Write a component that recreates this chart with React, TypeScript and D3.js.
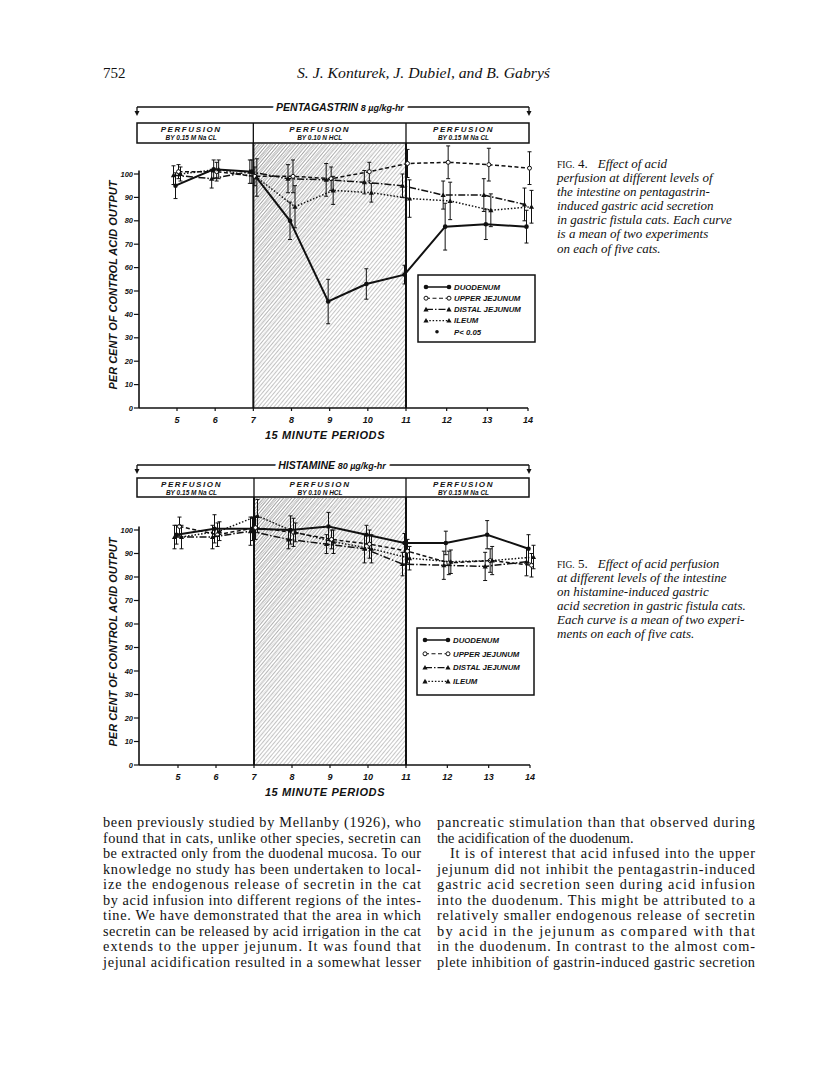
import * as d3 from "d3";

// 15-minute periods on the x axis
const periods = [5, 6, 7, 8, 9, 10, 11, 12, 13, 14];
const yTicks = [0, 10, 20, 30, 40, 50, 60, 70, 80, 90, 100];
const seriesNames = ["DUODENUM", "UPPER JEJUNUM", "DISTAL JEJUNUM", "ILEUM"];

// Fig. 4 - pentagastrin
const pentaDuodenum = [95, 102, 101, 80, 45.5, 53, 57, 77.5, 78.5, 77.5];
const pentaDuodenumErr = [5.5, 4, 5, 8, 9.5, 6.5, 4, 10, 6.5, 7];
const pentaUpperJej = [101, 101, 99, 99, 98, 101, 104.5, 105, 104, 102.5];
const pentaUpperJejErr = [3, 4, 4, 7, 5, 4, 6, 7, 7, 7];
const pentaDistalJej = [99.5, 98, 101, 98, 97.5, 96.5, 95, 91, 91, 87];
const pentaDistalJejErr = [4, 4, 5, 6, 7, 5, 5, 6, 7, 7];
const pentaIleum = [100, 102, 98.5, 86, 93, 92, 89.5, 88.5, 84.5, 86];
const pentaIleumErr = [3, 4, 8, 9, 6, 4, 8, 8, 7, 7];

// Fig. 5 - histamine
const histDuodenum = [98, 100.5, 100.5, 100, 101.5, 98, 94.5, 94.5, 98, 92];
const histDuodenumErr = [4, 6, 5, 6, 6, 4, 4, 5, 6, 6];
const histUpperJej = [101.5, 98, 101, 99, 96, 94, 91, 86, 87, 85];
const histUpperJejErr = [4, 5, 5, 6, 4, 6, 5, 5, 5, 5];
const histDistalJej = [97, 97, 99.5, 96, 94, 92, 85.5, 85, 84.5, 86.5];
const histDistalJejErr = [5, 5, 6, 4, 4, 6, 5, 6, 6, 6];
const histIleum = [97, 99.5, 106, 99, 95, 92, 88, 86.5, 87, 88.5];
const histIleumErr = [5, 4, 7, 4, 5, 6, 5, 5, 6, 5];

const leftColumn = [
  "been previously studied by Mellanby (1926), who",
  "found that in cats, unlike other species, secretin can",
  "be extracted only from the duodenal mucosa. To our",
  "knowledge no study has been undertaken to local-",
  "ize the endogenous release of secretin in the cat",
  "by acid infusion into different regions of the intes-",
  "tine. We have demonstrated that the area in which",
  "secretin can be released by acid irrigation in the cat",
  "extends to the upper jejunum. It was found that",
  "jejunal acidification resulted in a somewhat lesser",
];
const rightColumn = [
  "pancreatic stimulation than that observed during",
  "the acidification of the duodenum.",
  "It is of interest that acid infused into the upper",
  "jejunum did not inhibit the pentagastrin-induced",
  "gastric acid secretion seen during acid infusion",
  "into the duodenum. This might be attributed to a",
  "relatively smaller endogenous release of secretin",
  "by acid in the jejunum as compared with that",
  "in the duodenum. In contrast to the almost com-",
  "plete inhibition of gastrin-induced gastric secretion",
];
const fig4Caption = [
  "perfusion at different levels of",
  "the intestine on pentagastrin-",
  "induced gastric acid secretion",
  "in gastric fistula cats. Each curve",
  "is a mean of two experiments",
  "on each of five cats.",
];
const fig5Caption = [
  "at different levels of the intestine",
  "on histamine-induced gastric",
  "acid secretion in gastric fistula cats.",
  "Each curve is a mean of two experi-",
  "ments on each of five cats.",
];

const SANS = "'Liberation Sans', Arial, sans-serif";
const SERIF = "'Liberation Serif', 'Times New Roman', serif";

const styles = [
  { dash: undefined, width: 2, marker: "dot" },
  { dash: "4,2.5", width: 1.5, marker: "circle" },
  { dash: "7,2,1.5,2", width: 1.5, marker: "tri" },
  { dash: "1.5,1.8", width: 1.5, marker: "tri" },
];

function Marker({ kind, cx, cy }) {
  if (kind === "dot") return <circle cx={cx} cy={cy} r={2.3} fill="#111" />;
  if (kind === "circle")
    return <circle cx={cx} cy={cy} r={2} fill="#fff" stroke="#111" strokeWidth={1} />;
  return <path d={`M${cx - 2.6},${cy + 2} L${cx + 2.6},${cy + 2} L${cx},${cy - 2.6} Z`} fill="#111" />;
}

function Chart({ geo, title, dose, boxLabels, values, errs, showP }) {
  const x = d3.scaleLinear().domain([5, 11, 14]).range(geo.xr);
  const y = d3.scaleLinear().domain([0, 100]).range([geo.y0, geo.y100]);
  const offsets = [-1.5, 1.5, -3.5, 3.5];
  const left = 137, right = 529;
  const bounds = [left, x(7), x(11), right];
  const line = d3.line<number>().y((d) => y(d));

  return (
    <g>
      {/* infusion arrow */}
      <line x1={left} x2={right} y1={geo.hy} y2={geo.hy} stroke="#111" strokeWidth={1.3} />
      {[left, right].map((ax) => (
        <g key={ax}>
          <line x1={ax} x2={ax} y1={geo.hy} y2={geo.hy + 5} stroke="#111" strokeWidth={1.3} />
          <path d={`M${ax - 2.5},${geo.hy + 4} L${ax + 2.5},${geo.hy + 4} L${ax},${geo.hy + 9} Z`} fill="#111" />
        </g>
      ))}
      <text x={geo.titleX} y={geo.hy + 4} textAnchor="middle" fontFamily={SANS} fontWeight="bold"
        fontStyle="italic" fontSize={10.5} stroke="#fff" strokeWidth={7} paintOrder="stroke" fill="#111">
        {title}<tspan fontSize={9}> {dose}</tspan>
      </text>

      {/* perfusion box */}
      <rect x={left} y={geo.bt} width={right - left} height={geo.bb - geo.bt} fill="none" stroke="#111" strokeWidth={1.5} />
      {boxLabels.map((lab, i) => {
        const cx = (bounds[i] + bounds[i + 1]) / 2 - (i === 1 ? 10 : 4);
        return (
          <g key={i} fontFamily={SANS} fontWeight="bold" fontStyle="italic" fill="#111" textAnchor="middle">
            {i > 0 && <line x1={bounds[i]} x2={bounds[i]} y1={geo.bt} y2={geo.bb} stroke="#111" strokeWidth={1.3} />}
            <text x={cx} y={geo.bt + 9} fontSize={8} letterSpacing={1.6}>PERFUSION</text>
            <text x={cx} y={geo.bt + 17} fontSize={6.5}>{lab}</text>
          </g>
        );
      })}

      {/* acid perfusion period */}
      <rect x={x(7)} y={geo.bb} width={x(11) - x(7)} height={y(0) - geo.bb} fill="url(#hatch)" />
      <rect x={x(7)} y={geo.bb} width={x(11) - x(7)} height={y(0) - geo.bb} fill="url(#hatch2)"
        mask="url(#fadeMask)" />
      {[7, 11].map((p) => (
        <line key={p} x1={x(p)} x2={x(p)} y1={geo.bb} y2={y(0)} stroke="#111" strokeWidth={2} />
      ))}

      {/* axes */}
      <line x1={139} x2={139} y1={y(0)} y2={y(101.5)} stroke="#111" strokeWidth={1.6} />
      <line x1={139} x2={x(14)} y1={y(0)} y2={y(0)} stroke="#111" strokeWidth={1.6} />
      {yTicks.map((t) => (
        <g key={t}>
          <line x1={134} x2={139} y1={y(t)} y2={y(t)} stroke="#111" strokeWidth={1.2} />
          <text x={133} y={y(t) + 2.6} textAnchor="end" fontFamily={SANS} fontWeight="bold"
            fontStyle="italic" fontSize={7.5} fill="#111">{t}</text>
        </g>
      ))}
      {periods.map((p) => (
        <g key={p}>
          <line x1={x(p)} x2={x(p)} y1={y(0)} y2={y(0) + 3} stroke="#111" strokeWidth={1.2} />
          <text x={x(p)} y={y(0) + 15} textAnchor="middle" fontFamily={SANS} fontWeight="bold"
            fontStyle="italic" fontSize={9} fill="#111">{p}</text>
        </g>
      ))}
      <text x={325} y={y(0) + 31} textAnchor="middle" fontFamily={SANS} fontWeight="bold"
        fontStyle="italic" fontSize={11} letterSpacing={0.6} fill="#111">15 MINUTE PERIODS</text>
      <text transform={`translate(117,${geo.ly}) rotate(-90)`} textAnchor="middle" fontFamily={SANS}
        fontWeight="bold" fontStyle="italic" fontSize={11} fill="#111">PER CENT OF CONTROL ACID OUTPUT</text>

      {/* series */}
      {values.map((vals, s) => (
        <g key={s}>
          {vals.map((v, i) => {
            const px = x(periods[i]) + offsets[s];
            return (
              <g key={i} stroke="#111" strokeWidth={1}>
                <line x1={px} x2={px} y1={y(v - errs[s][i])} y2={y(v + errs[s][i])} />
                <line x1={px - 2} x2={px + 2} y1={y(v - errs[s][i])} y2={y(v - errs[s][i])} />
                <line x1={px - 2} x2={px + 2} y1={y(v + errs[s][i])} y2={y(v + errs[s][i])} />
              </g>
            );
          })}
          <path d={line.x((d, i) => x(periods[i]) + offsets[s])(vals) || ""} fill="none" stroke="#111"
            strokeWidth={styles[s].width} strokeDasharray={styles[s].dash} />
          {vals.map((v, i) => (
            <Marker key={i} kind={styles[s].marker} cx={x(periods[i]) + offsets[s]} cy={y(v)} />
          ))}
        </g>
      ))}

      {/* legend */}
      <rect x={geo.lgx} y={geo.lgy} width={117} height={67} fill="#fff" stroke="#111" strokeWidth={1.5} />
      {seriesNames.map((n, s) => {
        const ry = geo.lgy + 12 + s * geo.lgStep;
        return (
          <g key={n}>
            <line x1={geo.lgx + 8} x2={geo.lgx + 31} y1={ry} y2={ry} stroke="#111"
              strokeWidth={styles[s].width * 0.75} strokeDasharray={styles[s].dash} />
            <Marker kind={styles[s].marker} cx={geo.lgx + 8} cy={ry} />
            <Marker kind={styles[s].marker} cx={geo.lgx + 31} cy={ry} />
            <text x={geo.lgx + 36} y={ry + 2.8} fontFamily={SANS} fontWeight="bold" fontStyle="italic"
              fontSize={7.8} fill="#111">{n}</text>
          </g>
        );
      })}
      {showP && (
        <g>
          <circle cx={geo.lgx + 19} cy={geo.lgy + 12 + 4 * geo.lgStep} r={1.8} fill="#111" />
          <text x={geo.lgx + 36} y={geo.lgy + 14.8 + 4 * geo.lgStep} fontFamily={SANS} fontWeight="bold"
            fontStyle="italic" fontSize={7.8} fill="#111">{"P< 0.05"}</text>
        </g>
      )}
    </g>
  );
}

function Column({ lines, x0, width, indentRow, lastShort }) {
  return (
    <g fontFamily={SERIF} fontSize={14.3} fill="#111">
      {lines.map((l, i) => {
        const indent = i === indentRow ? 13 : 0;
        const justify = i !== lastShort;
        return (
          <text key={i} x={x0 + indent} y={827 + i * 15.5}
            textLength={justify ? width - indent : undefined}
            lengthAdjust={justify ? "spacing" : undefined}>{l}</text>
        );
      })}
    </g>
  );
}

export default function App() {
  return (
    <svg width={816} height={1077} style={{ position: "absolute", left: 0, top: 0, background: "#fff" }}>
      <defs>
        <pattern id="hatch" width={3} height={3} patternUnits="userSpaceOnUse" patternTransform="rotate(40)">
          <line x1={0} y1={0} x2={0} y2={3} stroke="#5a5a5a" strokeWidth={0.7} />
        </pattern>
        <pattern id="hatch2" width={2.2} height={2.2} patternUnits="userSpaceOnUse" patternTransform="rotate(40)">
          <line x1={0} y1={0} x2={0} y2={2.2} stroke="#444" strokeWidth={0.6} />
        </pattern>
        <linearGradient id="fadeGrad" x1="0" y1="0" x2="1" y2="1">
          <stop offset="0" stopColor="#fff" stopOpacity={1} />
          <stop offset="0.55" stopColor="#fff" stopOpacity={0} />
        </linearGradient>
        <mask id="fadeMask" maskContentUnits="objectBoundingBox">
          <rect x={0} y={0} width={1} height={1} fill="url(#fadeGrad)" />
        </mask>
      </defs>

      {/* running head */}
      <text x={103} y={78} fontFamily={SERIF} fontSize={15} fill="#111">752</text>
      <text x={297} y={78} fontFamily={SERIF} fontStyle="italic" fontSize={15.5} fill="#111"
        textLength={253} lengthAdjust="spacingAndGlyphs">S. J. Konturek, J. Dubiel, and B. Gabryś</text>

      <Chart
        geo={{ hy: 107, bt: 123, bb: 143, y0: 408, y100: 174, xr: [177, 406, 528], titleX: 340,
          ly: 285, lgx: 418, lgy: 275, lgStep: 11.2 }}
        title="PENTAGASTRIN" dose="8 µg/kg-hr"
        boxLabels={["BY 0.15 M Na CL", "BY 0.10 N HCL", "BY 0.15 M Na CL"]}
        values={[pentaDuodenum, pentaUpperJej, pentaDistalJej, pentaIleum]}
        errs={[pentaDuodenumErr, pentaUpperJejErr, pentaDistalJejErr, pentaIleumErr]}
        showP
      />
      <Chart
        geo={{ hy: 465, bt: 478, bb: 497, y0: 765, y100: 530, xr: [178, 406, 530], titleX: 332,
          ly: 642, lgx: 417, lgy: 628, lgStep: 13.8 }}
        title="HISTAMINE" dose="80 µg/kg-hr"
        boxLabels={["BY 0.15 M Na CL", "BY 0.10 N HCL", "BY 0.15 M Na CL"]}
        values={[histDuodenum, histUpperJej, histDistalJej, histIleum]}
        errs={[histDuodenumErr, histUpperJejErr, histDistalJejErr, histIleumErr]}
        showP={false}
      />

      {/* captions */}
      <g fontFamily={SERIF} fontSize={13} fill="#111">
        <text x={557} y={168}>
          <tspan fontSize={9.5}>FIG.</tspan><tspan> 4.</tspan>
          <tspan dx={10} fontStyle="italic">Effect  of  acid</tspan>
        </text>
        {fig4Caption.map((l, i) => (
          <text key={i} x={557} y={182 + i * 14.1} fontStyle="italic">{l}</text>
        ))}
        <text x={557} y={568}>
          <tspan fontSize={9.5}>FIG.</tspan><tspan> 5.</tspan>
          <tspan dx={10} fontStyle="italic">Effect of acid perfusion</tspan>
        </text>
        {fig5Caption.map((l, i) => (
          <text key={i} x={557} y={581.5 + i * 14.1} fontStyle="italic">{l}</text>
        ))}
      </g>

      <Column lines={leftColumn} x0={103} width={318} indentRow={-1} lastShort={-1} />
      <Column lines={rightColumn} x0={437} width={318} indentRow={2} lastShort={1} />
    </svg>
  );
}
